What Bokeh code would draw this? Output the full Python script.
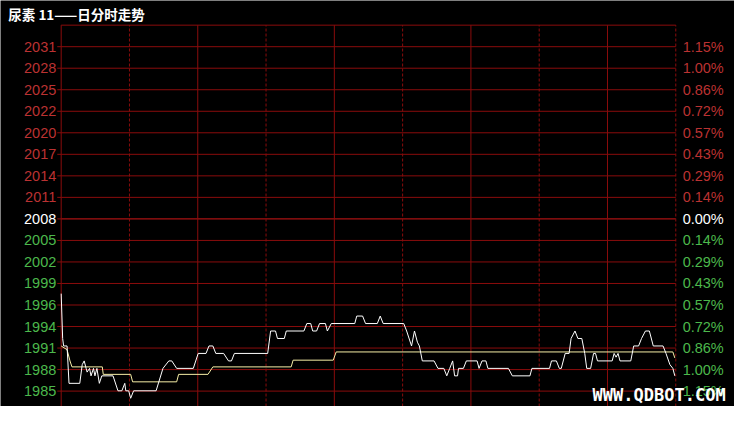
from bokeh.plotting import figure
from bokeh.models import Range1d, Label, ColumnDataSource
from bokeh.core.properties import value
from bokeh.embed import file_html
from bokeh.resources import INLINE

# ---------------- data ----------------
title_text = "尿素 11——日分时走势"
watermark_text = "WWW.QDBOT.COM"
base_price = 2008
price_step = 2.88          # one grid step (~0.143 %)
level_steps = [8, 7, 6, 5, 4, 3, 2, 1, 0, -1, -2, -3, -4, -5, -6, -7, -8]
left_labels = ["2031", "2028", "2025", "2022", "2020", "2017", "2014", "2011", "2008",
               "2005", "2002", "1999", "1996", "1994", "1991", "1988", "1985"]
right_labels = ["1.15%", "1.00%", "0.86%", "0.72%", "0.57%", "0.43%", "0.29%", "0.14%", "0.00%",
                "0.14%", "0.29%", "0.43%", "0.57%", "0.72%", "0.86%", "1.00%", "1.15%"]

# time index (session position) and last price
price_t = [0, 1.5, 2.5, 6, 8, 19, 21.5, 23.5, 25.5, 26.5, 29, 30.5, 33, 34.5, 36.5, 39, 41.5,
           53, 58, 62, 65, 66, 69, 71, 74, 97, 104, 110, 113, 118, 135, 140, 148, 151, 155,
           158, 166, 171, 174, 177, 211, 214, 219, 221, 228, 230, 248, 251, 255, 257, 261,
           264, 270, 272, 276, 300, 302, 308, 311, 323, 326, 329, 350, 353, 358, 361, 364,
           366, 369, 381, 385, 391, 394, 397, 400, 402, 405, 406, 411, 414, 425, 427, 430,
           434, 436, 457, 461, 479, 481, 499, 501, 506, 509, 511, 515, 519, 521, 525, 528,
           532, 535, 537, 541, 544, 546, 548, 563, 565, 567, 569, 571, 582, 585, 590, 593,
           597, 601, 605, 615, 618, 622, 625, 627]
price_v = [1998, 1992, 1991, 1991, 1986, 1986, 1988.5, 1989, 1988, 1987.5, 1988, 1987, 1988,
           1987, 1988, 1986, 1987, 1987, 1985, 1985, 1986, 1985, 1985, 1984, 1985, 1985, 1988,
           1989, 1989, 1988, 1988, 1990, 1990, 1991, 1991, 1990, 1990, 1989, 1989, 1990, 1990,
           1993, 1993, 1992, 1992, 1993, 1993, 1994, 1994, 1993, 1993, 1994, 1994, 1993, 1994,
           1994, 1995, 1995, 1994, 1994, 1995, 1994, 1994, 1993, 1991, 1993, 1991.5, 1991,
           1989, 1989, 1988, 1988, 1987, 1988, 1989, 1987, 1987, 1988, 1988, 1989, 1989, 1988,
           1989, 1989, 1988, 1988, 1987, 1987, 1988, 1988, 1989, 1989, 1988, 1988, 1990, 1990,
           1992, 1993, 1992, 1992, 1990, 1988, 1988, 1990, 1990, 1989, 1989, 1990, 1989.5,
           1990, 1989, 1989, 1991, 1991, 1992, 1993, 1993, 1991, 1991, 1990, 1988.5, 1988, 1987]

# average price line
avg_t = [0, 6, 9, 11, 42, 43, 71, 73, 118, 120, 150, 155, 235, 237, 278, 281, 625, 627]
avg_v = [1991, 1990.5, 1989, 1988.2, 1988.2, 1987.2, 1987.2, 1986.2, 1986.2, 1987.2, 1987.2,
         1988.2, 1988.2, 1989.1, 1989.1, 1990.2, 1990.2, 1989.4]

session_len = 628
n_divisions = 9

# ---------------- styling ----------------
GRID_RED = "#8a0c0c"
CENTER_RED = "#a81212"
LBL_RED = "#bb3232"
LBL_GREEN = "#4cb84c"
LBL_WHITE = "#ffffff"
LABEL_FONT = "Liberation Sans"

assert len(price_t) == len(price_v)
assert len(avg_t) == len(avg_v)

tick_vals = [base_price + k * price_step for k in level_steps]
label_colors = [LBL_RED if k > 0 else (LBL_WHITE if k == 0 else LBL_GREEN) for k in level_steps]
top_border = base_price + 9 * price_step
hgrid_vals = [base_price + k * price_step for k in range(-8, 10) if k != 0]
div = session_len / n_divisions
solid_x = [i * div for i in range(0, n_divisions + 1, 2)]
dashed_x = [i * div for i in range(1, n_divisions + 1, 2)]

# visible window (whole canvas is the frame)
x_lo, x_hi = -62, 688
y_lo, y_hi = 1982.9, 2037.22

p = figure(width=734, height=406, output_backend="svg", toolbar_location=None,
           x_axis_location=None, y_axis_location=None,
           x_range=Range1d(x_lo, x_hi), y_range=Range1d(y_lo, y_hi),
           min_border=0, background_fill_color="black", border_fill_color="black",
           outline_line_color=None)
p.grid.visible = False

# grid
p.segment(x0=0, y0=hgrid_vals, x1=session_len, y1=hgrid_vals,
          line_color=GRID_RED, line_width=1)
p.segment(x0=0, y0=[base_price], x1=session_len, y1=[base_price],
          line_color=CENTER_RED, line_width=1.4)
p.segment(x0=solid_x, y0=y_lo, x1=solid_x, y1=top_border,
          line_color=GRID_RED, line_width=1)
p.segment(x0=dashed_x, y0=y_lo, x1=dashed_x, y1=top_border,
          line_color=GRID_RED, line_width=1, line_dash="3 2")
# short ticks on the left price scale
p.segment(x0=-4, y0=tick_vals, x1=0, y1=tick_vals, line_color=GRID_RED, line_width=1)

# series
p.line(avg_t, avg_v, line_color="#f6eea6", line_width=1)
p.line(price_t, price_v, line_color="#ffffff", line_width=1)

# scale labels
src = ColumnDataSource(dict(y=tick_vals, left=left_labels, right=right_labels, color=label_colors))
p.text(x=-5, y="y", text="left", source=src, text_align="right", text_baseline="middle",
       text_color="color", text_font=value(LABEL_FONT), text_font_size=value("14.5px"))
p.text(x=session_len + 7, y="y", text="right", source=src, text_align="left",
       text_baseline="middle", text_color="color", text_font=value(LABEL_FONT),
       text_font_size=value("14.5px"))

p.add_layout(Label(x=-54, y=2035.4, text=title_text, text_color="white",
                   text_font="Noto Sans CJK SC", text_font_style="bold",
                   text_font_size="13.5px", text_baseline="middle", text_align="left"))
p.add_layout(Label(x=543, y=1983.05, text=watermark_text, text_color="white",
                   text_font="DejaVu Sans Mono", text_font_style="bold",
                   text_font_size="17px", text_baseline="bottom", text_align="left"))

open("out.html", "w").write(file_html(p, INLINE))
